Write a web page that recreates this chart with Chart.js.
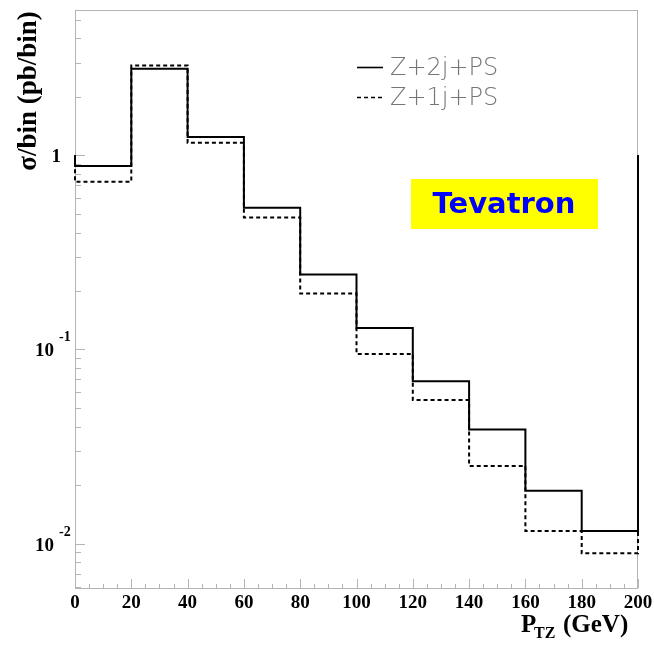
<!DOCTYPE html>
<html>
<head>
<meta charset="utf-8">
<title>Z pT spectrum</title>
<script src="https://cdn.jsdelivr.net/npm/chart.js@4.4.1/dist/chart.umd.min.js"></script>
<style>
  html, body { margin: 0; padding: 0; background: #fff; }
  canvas { display: block; }
</style>
</head>
<body>
<canvas id="ptChart" width="654" height="650"></canvas>
<script>
// Bin edges in P_TZ (GeV), 20 GeV bins
const binEdges = [0, 20, 40, 60, 80, 100, 120, 140, 160, 180, 200];
// sigma per bin (pb/bin)
const z2jValues = [0.88, 2.79, 1.24, 0.536, 0.243, 0.129, 0.0686, 0.0387, 0.0187, 0.0116];
const z1jValues = [0.73, 2.90, 1.16, 0.478, 0.194, 0.0948, 0.0548, 0.0251, 0.0116, 0.0089];
const seriesLabels = ['Z+2j+PS', 'Z+1j+PS'];
// histogram outline starts and ends at 1
const baseLevel = 1;

const xTicks = [0, 20, 40, 60, 80, 100, 120, 140, 160, 180, 200];
const xTickLabels = ['0', '20', '40', '60', '80', '100', '120', '140', '160', '180', '200'];
const yDecades = [1, 0.1, 0.01];
const yDecadeLabels = [['1', ''], ['10', '-1'], ['10', '-2']];

const X_MIN = 0, X_MAX = 200;
const Y_MIN = 0.0059, Y_MAX = 5.6;

// turn bin contents into step outline points (left edge of each bin + closing edge)
function histPoints(values) {
  const pts = [{ x: binEdges[0], y: baseLevel }];
  values.forEach((v, i) => pts.push({ x: binEdges[i], y: v }));
  pts.push({ x: binEdges[binEdges.length - 1], y: baseLevel });
  return pts;
}

const SERIF = '"Liberation Serif", "DejaVu Serif", serif';
const frameColor = '#b4b4b4';

// frame, inward ticks, tick labels, titles, legend and the Tevatron tag
const decorPlugin = {
  id: 'decor',
  beforeDatasetsDraw(chart) {
    const { ctx, chartArea: a } = chart;
    const xs = chart.scales.x, ys = chart.scales.y;
    ctx.save();
    ctx.strokeStyle = frameColor;
    ctx.lineWidth = 1;
    ctx.strokeRect(a.left + 0.5, a.top + 0.5, a.right - a.left - 1, a.bottom - a.top);

    // x ticks: major every 20, minor every 5
    ctx.beginPath();
    for (let v = X_MIN; v <= X_MAX; v += 5) {
      const px = Math.round(xs.getPixelForValue(v)) + 0.5;
      const len = (v % 20 === 0) ? 9 : 4;
      ctx.moveTo(px, a.bottom);
      ctx.lineTo(px, a.bottom - len);
    }
    // y ticks: decades long, 2..9 short
    for (let e = -3; e <= 1; e++) {
      for (let m = 1; m <= 9; m++) {
        const v = m * Math.pow(10, e);
        if (v < Y_MIN || v > Y_MAX) continue;
        const py = Math.round(ys.getPixelForValue(v)) + 0.5;
        const len = (m === 1) ? 10 : 6;
        ctx.moveTo(a.left, py);
        ctx.lineTo(a.left + len, py);
      }
    }
    ctx.stroke();
    ctx.restore();
  },
  afterDraw(chart) {
    const { ctx, chartArea: a } = chart;
    const xs = chart.scales.x, ys = chart.scales.y;
    ctx.save();
    ctx.fillStyle = '#000';

    // x tick labels
    ctx.font = 'bold 19px ' + SERIF;
    ctx.textAlign = 'center';
    ctx.textBaseline = 'alphabetic';
    xTicks.forEach((v, i) => {
      ctx.fillText(xTickLabels[i], xs.getPixelForValue(v), a.bottom + 20);
    });

    // y tick labels with exponents
    yDecades.forEach((v, i) => {
      const py = ys.getPixelForValue(v);
      const [base, exp] = yDecadeLabels[i];
      ctx.font = 'bold 19px ' + SERIF;
      if (!exp) {
        ctx.textAlign = 'right';
        ctx.fillText(base, a.left - 14, py + 7);
      } else {
        ctx.textAlign = 'right';
        ctx.fillText(base, a.left - 21, py + 7);
        ctx.font = 'bold 14px ' + SERIF;
        ctx.textAlign = 'left';
        ctx.fillText(exp, a.left - 16, py - 8);
      }
    });

    // y title
    ctx.save();
    ctx.translate(36, 91);
    ctx.rotate(-Math.PI / 2);
    ctx.font = 'bold 27px ' + SERIF;
    ctx.textAlign = 'center';
    ctx.fillText('σ/bin (pb/bin)', 0, 0);
    ctx.restore();

    // x title P_TZ (GeV)
    ctx.textAlign = 'left';
    ctx.font = 'bold 25px ' + SERIF;
    ctx.fillText('P', 521, 632);
    ctx.font = 'bold 16px ' + SERIF;
    ctx.fillText('TZ', 534, 638);
    ctx.font = 'bold 25px ' + SERIF;
    ctx.fillText('(GeV)', 563, 632);

    // legend
    const legendRows = [67, 97];
    chart.data.datasets.forEach((ds, i) => {
      const y = legendRows[i] + 0.5;
      ctx.strokeStyle = ds.borderColor;
      ctx.lineWidth = 1.6;
      ctx.setLineDash(ds.borderDash || []);
      ctx.beginPath();
      ctx.moveTo(357, y);
      ctx.lineTo(383, y);
      ctx.stroke();
      ctx.setLineDash([]);
      ctx.fillStyle = '#767676';
      ctx.font = '200 24px "DejaVu Sans", sans-serif';
      ctx.textAlign = 'left';
      ctx.fillText(ds.label, 390, legendRows[i] + 8);
    });

    // Tevatron tag
    ctx.fillStyle = '#ffff00';
    ctx.fillRect(411, 179, 187, 50);
    ctx.fillStyle = '#0000ff';
    ctx.font = 'bold 29px "DejaVu Sans", sans-serif';
    ctx.textAlign = 'center';
    ctx.textBaseline = 'middle';
    ctx.fillText('Tevatron', 504, 205);
    ctx.restore();
  }
};

const chart = new Chart(document.getElementById('ptChart'), {
  type: 'line',
  data: {
    datasets: [
      {
        label: seriesLabels[0],
        data: histPoints(z2jValues),
        borderColor: '#000',
        borderWidth: 2,
        stepped: 'before',
        pointRadius: 0,
        fill: false,
        clip: 4
      },
      {
        label: seriesLabels[1],
        data: histPoints(z1jValues),
        borderColor: '#000',
        borderWidth: 2,
        borderDash: [4, 3],
        stepped: 'before',
        pointRadius: 0,
        fill: false,
        clip: 4
      }
    ]
  },
  options: {
    responsive: false,
    animation: false,
    layout: { padding: { left: 75, right: 16, top: 10, bottom: 62 } },
    plugins: { legend: { display: false }, tooltip: { enabled: false } },
    scales: {
      x: { type: 'linear', min: X_MIN, max: X_MAX, display: false },
      y: { type: 'logarithmic', min: Y_MIN, max: Y_MAX, display: false }
    }
  },
  plugins: [decorPlugin]
});
</script>
</body>
</html>
